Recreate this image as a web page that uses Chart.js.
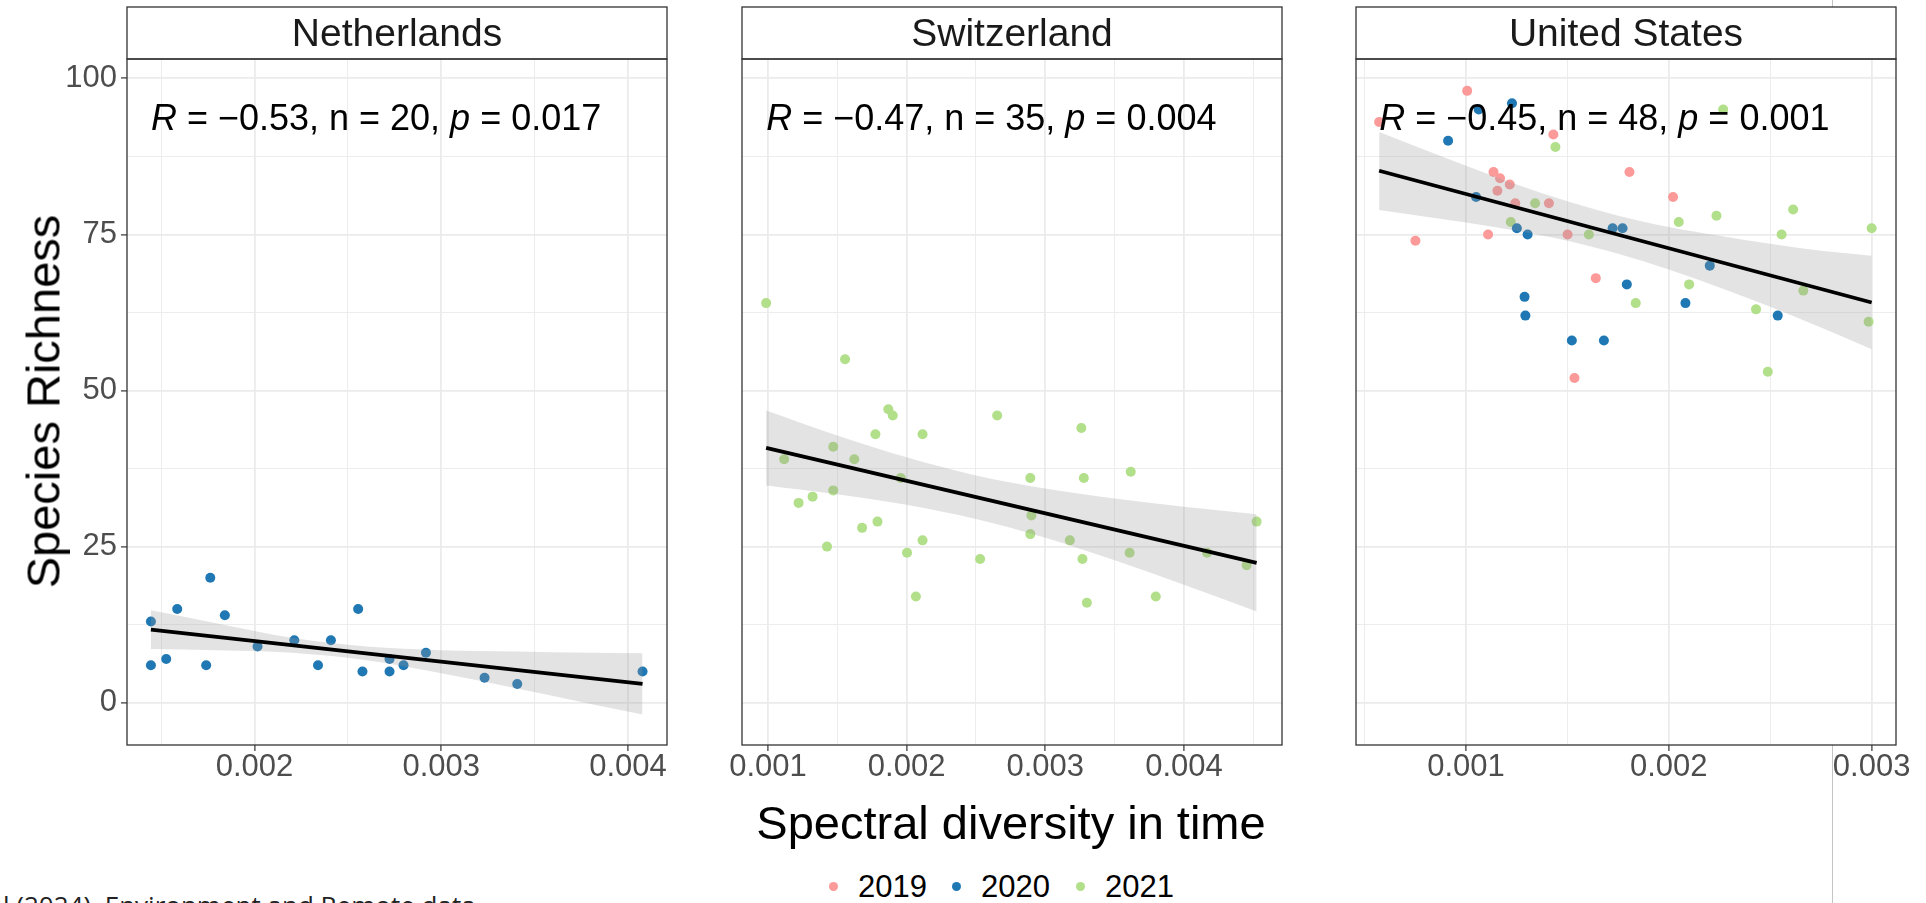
<!DOCTYPE html>
<html>
<head>
<meta charset="utf-8">
<script src="https://cdn.jsdelivr.net/npm/chart.js@4.4.1/dist/chart.umd.min.js"></script>
<style>
  body { margin: 0; width: 1926px; height: 903px; overflow: hidden; background: #fff; position: relative;
         font-family: "Liberation Sans", Arial, Helvetica, sans-serif; }
  canvas.panel { position: absolute; top: 0; }
  #vline { position: absolute; left: 1832px; top: 0; width: 1px; height: 903px; background: #c4c4c4; }
  #ytitle { position: absolute; left: -257px; top: 378px; width: 600px; height: 47px; line-height: 47px;
            font-size: 47px; text-align: center; color: #000; transform: rotate(-90deg); white-space: nowrap; }
  #xtitle { position: absolute; left: 511px; top: 799px; width: 1000px; height: 47px; line-height: 47px;
            font-size: 47px; text-align: center; color: #000; white-space: nowrap; }
  .leg-dot { position: absolute; width: 9px; height: 9px; border-radius: 50%; }
  .leg-txt { position: absolute; font-size: 31px; line-height: 31px; color: #000; white-space: nowrap; }
  #cite { position: absolute; left: 3px; top: 892px; font-family: "Open Sans", sans-serif; font-size: 26px;
          line-height: 26px; color: #222; white-space: nowrap; }
</style>
</head>
<body>
<div id="vline"></div>
<canvas id="p0" class="panel" width="650" height="800" style="left:57px"></canvas>
<canvas id="p1" class="panel" width="650" height="800" style="left:672px"></canvas>
<canvas id="p2" class="panel" width="650" height="800" style="left:1286px"></canvas>
<div id="ytitle">Species Richness</div>
<div id="xtitle">Spectral diversity in time</div>
<div id="legend"></div>
<div id="cite">l (2024). Environment and Remote data</div>
<script>
// facets and colour groups
var countries = ["Netherlands", "Switzerland", "United States"];
var years = ["2019", "2020", "2021"];
var yearColors = ["#FB9A99", "#1F78B4", "#B2DF8A"];

// Netherlands (2020 only)
var nl2020X = [0.001445, 0.001445, 0.001527, 0.001586, 0.001763, 0.001741, 0.001841, 0.002016, 0.002213, 0.002340,
               0.002409, 0.002555, 0.002578, 0.002723, 0.002723, 0.002798, 0.002918, 0.003232, 0.003407, 0.004078];
var nl2020Y = [13, 6, 7, 15, 20, 6, 14, 9, 10, 6, 10, 15, 5, 7, 5, 6, 8, 4, 3, 5];

// Switzerland (2021 only)
var ch2021X = [0.000987, 0.001556, 0.001868, 0.0019, 0.002653, 0.00326, 0.001775, 0.002115, 0.001471, 0.001117,
               0.001623, 0.001958, 0.002892, 0.003278, 0.003616, 0.001471, 0.001322, 0.001221, 0.00179, 0.001679,
               0.0029, 0.004524, 0.002115, 0.003177, 0.002892, 0.001426, 0.002003, 0.003608, 0.004167, 0.00253,
               0.003268, 0.004452, 0.002067, 0.003797, 0.0033];
var ch2021Y = [64, 55, 47, 46, 46, 44, 43, 43, 41, 39, 39, 36, 36, 36, 37, 34, 33, 32, 29, 28,
               30, 29, 26, 26, 27, 25, 24, 24, 24, 23, 23, 22, 17, 17, 16];

// United States
var us2019X = [0.000572, 0.001006, 0.001431, 0.001136, 0.001168, 0.001216, 0.001155, 0.001243, 0.001409, 0.001806,
               0.002021, 0.000751, 0.001109, 0.001501, 0.00164, 0.001535];
var us2019Y = [93, 98, 91, 85, 84, 83, 82, 80, 80, 85, 81, 74, 75, 75, 68, 52];
var us2020X = [0.001227, 0.001063, 0.000912, 0.00105, 0.001251, 0.001304, 0.001723, 0.001772, 0.002202, 0.001793,
               0.002082, 0.001289, 0.001293, 0.002537, 0.001522, 0.00168];
var us2020Y = [96, 95, 90, 81, 76, 75, 76, 76, 70, 67, 64, 65, 62, 62, 58, 58];
var us2021X = [0.002268, 0.001441, 0.001341, 0.001221, 0.001606, 0.002049, 0.002235, 0.002613, 0.002556, 0.003,
               0.0021, 0.001837, 0.002663, 0.00243, 0.002985, 0.002488];
var us2021Y = [95, 89, 80, 77, 75, 77, 78, 79, 75, 76, 67, 64, 66, 63, 61, 53];

// fitted lines
var fitX = [[0.001445, 0.004078], [0.000987, 0.004524], [0.000572, 0.003]];
var fitY = [[11.7, 3.0], [40.8, 22.4], [85.2, 64.1]];

// confidence bands
var bandX = [
  [0.001445, 0.0018, 0.0022, 0.0026, 0.003, 0.0034, 0.0038, 0.004078],
  [0.000987, 0.0015, 0.002, 0.0025, 0.003, 0.0035, 0.004, 0.004524],
  [0.000572, 0.001, 0.00125, 0.0015, 0.00175, 0.002, 0.00225, 0.0025, 0.00275, 0.003]
];
var bandLo = [
  [8.6, 8.4, 8.0, 6.8, 4.7, 2.3, -0.2, -1.9],
  [34.8, 33.4, 31.7, 29.4, 26.4, 22.8, 18.9, 14.6],
  [78.9, 76.9, 75.6, 74.0, 71.9, 69.4, 66.5, 63.4, 60.1, 56.6]
];
var bandHi = [
  [14.8, 12.7, 10.4, 9.0, 8.4, 8.2, 8.0, 7.9],
  [46.8, 42.8, 39.3, 36.4, 34.3, 32.7, 31.4, 30.2],
  [91.4, 86.0, 83.0, 80.3, 78.0, 76.2, 74.8, 73.5, 72.4, 71.6]
];

// correlation annotations
var statR = [-0.53, -0.47, -0.45];
var statN = [20, 35, 48];
var statP = ["0.017", "0.004", "0.001"];
var statY = 91.8;

// axes
var xMin = [0.001317, 0.000813, 0.000458];
var xMax = [0.004209, 0.004707, 0.00312];
var xTicks = [
  [0.0015, 0.002, 0.0025, 0.003, 0.0035, 0.004],
  [0.001, 0.0015, 0.002, 0.0025, 0.003, 0.0035, 0.004, 0.0045],
  [0.0005, 0.001, 0.0015, 0.002, 0.0025, 0.003]
];
var yMin = -6.78, yMax = 103.1;
var yTicks = [0, 12.5, 25, 37.5, 50, 62.5, 75, 87.5, 100];

var FONT = '"Liberation Sans", Arial, Helvetica, sans-serif';

function pts(xs, ys) {
  return xs.map(function(x, k) { return {x: x, y: ys[k]}; });
}
function majorX(v) { return Math.abs(v * 1000 - Math.round(v * 1000)) < 1e-6; }
function majorY(v) { return v % 25 === 0; }

var pointSets = [
  [[1, nl2020X, nl2020Y]],
  [[2, ch2021X, ch2021Y]],
  [[0, us2019X, us2019Y], [1, us2020X, us2020Y], [2, us2021X, us2021Y]]
];

function makePanel(i) {
  var showY = (i === 0);
  var datasets = [
    {type: 'line', showLine: true, data: pts(fitX[i], fitY[i]), borderColor: '#000', borderWidth: 3.8,
     pointRadius: 0, fill: false},
    {type: 'line', showLine: true, data: pts(bandX[i], bandHi[i]), borderColor: 'rgba(0,0,0,0)', borderWidth: 0.01,
     pointRadius: 0, backgroundColor: 'rgba(153,153,153,0.27)', fill: '+1', cubicInterpolationMode: 'monotone'},
    {type: 'line', showLine: true, data: pts(bandX[i], bandLo[i]), borderColor: 'rgba(0,0,0,0)', borderWidth: 0.01,
     pointRadius: 0, fill: false, cubicInterpolationMode: 'monotone'}
  ];
  pointSets[i].forEach(function(s) {
    datasets.push({type: 'scatter', label: years[s[0]], data: pts(s[1], s[2]), pointRadius: 5,
                   backgroundColor: yearColors[s[0]], borderWidth: 0});
  });

  var frame = {
    id: 'frame' + i,
    beforeDraw: function(chart) {
      var a = chart.chartArea, ctx = chart.ctx;
      ctx.save();
      ctx.fillStyle = '#fff';
      ctx.fillRect(a.left, 7, a.right - a.left, a.bottom - 7);
      ctx.restore();
    },
    afterDatasetsDraw: function(chart) {
      var ctx = chart.ctx;
      var minX = Math.min.apply(null, datasets.slice(3).reduce(function(acc, d) {
        return acc.concat(d.data.map(function(p) { return p.x; }));
      }, []));
      var x = chart.scales.x.getPixelForValue(minX);
      var y = chart.scales.y.getPixelForValue(statY);
      var parts = [['R', true], [' = \u2212' + Math.abs(statR[i]).toFixed(2) + ', n = ' + statN[i] + ', ', false],
                   ['p', true], [' = ' + statP[i], false]];
      ctx.save();
      ctx.fillStyle = '#000';
      ctx.textBaseline = 'alphabetic';
      ctx.textAlign = 'left';
      parts.forEach(function(p) {
        ctx.font = (p[1] ? 'italic ' : '') + '36px ' + FONT;
        ctx.fillText(p[0], x, y);
        x += ctx.measureText(p[0]).width;
      });
      ctx.restore();
    },
    afterDraw: function(chart) {
      var a = chart.chartArea, ctx = chart.ctx;
      ctx.save();
      ctx.strokeStyle = '#333333';
      ctx.lineWidth = 1.3;
      ctx.strokeRect(a.left, 7, a.right - a.left, a.top - 7);
      ctx.strokeRect(a.left, a.top, a.right - a.left, a.bottom - a.top);
      ctx.restore();
    }
  };

  return new Chart(document.getElementById('p' + i), {
    type: 'scatter',
    data: {datasets: datasets},
    plugins: [frame],
    options: {
      responsive: false,
      animation: false,
      events: [],
      layout: {padding: {top: 7, right: 40, bottom: 0, left: 0}},
      plugins: {
        legend: {display: false},
        tooltip: {enabled: false},
        title: {
          display: true, text: countries[i], fullSize: false, color: '#1A1A1A',
          font: {family: FONT, size: 39, weight: 'normal', lineHeight: 1},
          padding: {top: 8.5, bottom: 4.5}
        }
      },
      scales: {
        x: {
          type: 'linear', min: xMin[i], max: xMax[i],
          afterBuildTicks: function(s) { s.ticks = xTicks[i].map(function(v) { return {value: v}; }); },
          afterFit: function(s) { s.height = 55; s.paddingLeft = 0; s.paddingRight = 0; },
          border: {display: false},
          grid: {
            color: '#EBEBEB',
            lineWidth: function(c) { return c.tick && majorX(c.tick.value) ? 1.8 : 0.9; },
            drawTicks: true, tickLength: 6, tickWidth: 1.2,
            tickColor: function(c) { return c.tick && majorX(c.tick.value) ? '#333333' : 'rgba(0,0,0,0)'; }
          },
          ticks: {
            autoSkip: false, maxRotation: 0, padding: 1, color: '#4D4D4D',
            font: {family: FONT, size: 31, lineHeight: 1},
            callback: function(v) { return majorX(v) ? v.toFixed(3) : ''; }
          }
        },
        y: {
          type: 'linear', min: yMin, max: yMax,
          afterBuildTicks: function(s) { s.ticks = yTicks.map(function(v) { return {value: v}; }); },
          afterFit: function(s) { s.width = 70; s.paddingTop = 0; s.paddingBottom = 0; },
          border: {display: false},
          grid: {
            color: '#EBEBEB',
            lineWidth: function(c) { return c.tick && majorY(c.tick.value) ? 1.8 : 0.9; },
            drawTicks: showY, tickLength: 6, tickWidth: 1.2,
            tickColor: function(c) { return c.tick && majorY(c.tick.value) ? '#333333' : 'rgba(0,0,0,0)'; }
          },
          ticks: {
            display: showY, padding: 4, color: '#4D4D4D',
            font: {family: FONT, size: 31, lineHeight: 1},
            callback: function(v) { return majorY(v) ? String(v) : ''; }
          }
        }
      }
    }
  });
}

makePanel(0);
makePanel(1);
makePanel(2);

// shared legend
var legDotX = [833, 956, 1080];
var legend = document.getElementById('legend');
years.forEach(function(yr, k) {
  var d = document.createElement('div');
  d.className = 'leg-dot';
  d.style.left = (legDotX[k] - 4.5) + 'px';
  d.style.top = (886 - 4.5) + 'px';
  d.style.background = yearColors[k];
  legend.appendChild(d);
  var t = document.createElement('div');
  t.className = 'leg-txt';
  t.style.left = (legDotX[k] + 25) + 'px';
  t.style.top = '871px';
  t.textContent = yr;
  legend.appendChild(t);
});
</script>
</body>
</html>
